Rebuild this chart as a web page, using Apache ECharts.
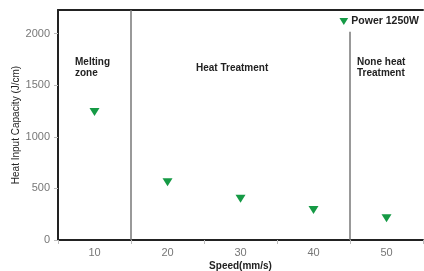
<!DOCTYPE html>
<html>
<head>
<meta charset="utf-8">
<script src="https://cdn.jsdelivr.net/npm/echarts@6/dist/echarts.min.js"></script>
<style>
  html, body { margin: 0; padding: 0; background: #fff; }
  #chart { width: 424px; height: 271px; }
</style>
</head>
<body>
<div id="chart"></div>
<script>
var speeds = ['10', '20', '30', '40', '50'];
var heatInput = [1240, 560, 400, 290, 210];
// zone boundaries on speed scale, with top end of each line
var zoneLines = [[15, 2230], [45, 2020]];
var seriesName = 'Power 1250W';

var tri = 'path://M0,0 L10,0 L5,8 Z';
var txt = { fontFamily: 'Liberation Sans', fontWeight: 'bold', fontSize: 10, fill: '#222', lineHeight: 11 };

var chart = echarts.init(document.getElementById('chart'));
chart.setOption({
  animation: false,
  grid: { left: 58, right: 1, top: 10, bottom: 31, outerBoundsMode: 'none', containLabel: false },
  legend: {
    right: 0, top: 11,
    itemWidth: 9, itemHeight: 7, itemGap: 4,
    icon: tri,
    textStyle: { fontFamily: 'Liberation Sans', fontWeight: 'bold', fontSize: 10.5, color: '#222', padding: [0, 0, 0, -2] },
    data: [seriesName]
  },
  xAxis: [{
    type: 'category',
    data: speeds,
    boundaryGap: true,
    name: 'Speed(mm/s)',
    nameLocation: 'middle',
    nameGap: 21,
    nameMoveOverlap: false,
    nameTextStyle: { fontFamily: 'Liberation Sans', fontSize: 10, color: '#222', fontWeight: 'bold' },
    axisLine: { lineStyle: { color: '#222', width: 2 } },
    axisTick: { show: true, length: 4, lineStyle: { color: '#bbb' } },
    axisLabel: { color: '#777', fontSize: 11, fontFamily: 'Liberation Sans', margin: 7 },
    splitLine: { show: false }
  }, {
    type: 'value',
    position: 'top',
    min: 5, max: 55,
    axisLine: { show: true, lineStyle: { color: '#222', width: 2 } },
    axisTick: { show: false },
    axisLabel: { show: false },
    splitLine: { show: false }
  }],
  yAxis: {
    type: 'value',
    min: 0, max: 2230, interval: 500,
    name: 'Heat Input Capacity (J/cm)',
    nameLocation: 'middle',
    nameGap: 37,
    nameMoveOverlap: false,
    nameTextStyle: { fontFamily: 'Liberation Sans', fontSize: 10, color: '#222' },
    axisLine: { show: true, lineStyle: { color: '#222', width: 2 } },
    axisTick: { show: true, length: 4, lineStyle: { color: '#bbb' } },
    axisLabel: {
      color: '#777', fontSize: 11, fontFamily: 'Liberation Sans', margin: 8, showMaxLabel: false,
      formatter: function (v) { return String(v); }
    },
    splitLine: { show: false }
  },
  series: [{
    name: seriesName,
    type: 'scatter',
    data: heatInput,
    symbol: tri,
    symbolSize: [10, 8],
    itemStyle: { color: '#159a45', opacity: 1 }
  }, {
    type: 'scatter',
    xAxisIndex: 1,
    data: [],
    silent: true,
    markLine: {
      symbol: 'none',
      silent: true,
      label: { show: false },
      lineStyle: { color: '#777', width: 1.5, type: 'solid' },
      data: zoneLines.map(function (z) {
        return [{ coord: [z[0], 0] }, { coord: [z[0], z[1]] }];
      })
    }
  }],
  graphic: [
    { type: 'text', left: 75, top: 57, style: Object.assign({ text: 'Melting\nzone' }, txt) },
    { type: 'text', left: 196, top: 63, style: Object.assign({ text: 'Heat Treatment' }, txt) },
    { type: 'text', left: 357, top: 57, style: Object.assign({ text: 'None heat\nTreatment' }, txt) }
  ]
});
</script>
</body>
</html>
